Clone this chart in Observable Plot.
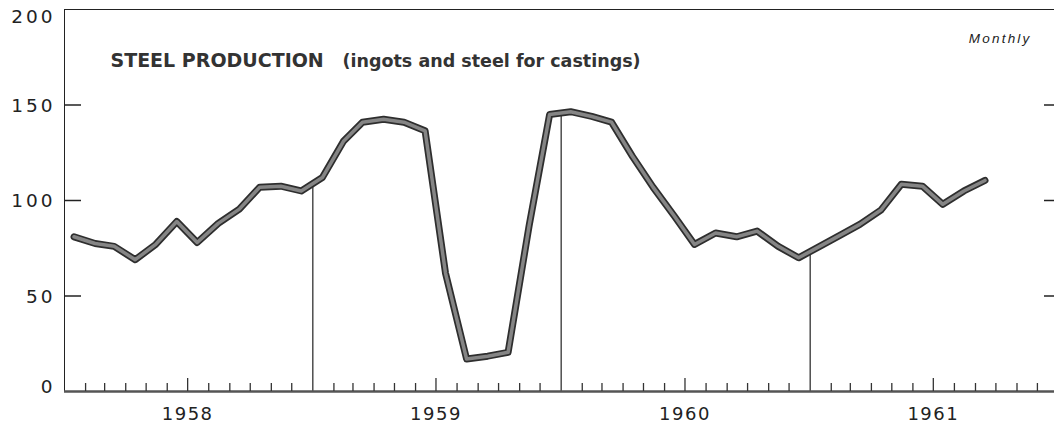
<!DOCTYPE html>
<html><head><meta charset="utf-8">
<script src="https://cdn.jsdelivr.net/npm/d3@7"></script>
<script src="https://cdn.jsdelivr.net/npm/@observablehq/plot@0.6"></script>
<style>html,body{margin:0;padding:0;background:#fff;overflow:hidden}</style>
</head><body><div id="chart"></div>
<script>
// ---- data (index, monthly) ----
const years = [1958, 1959, 1960, 1961];
const yearLabels = ["1958", "1959", "1960", "1961"];
const prod1958 = [81, 77.5, 76, 69, 77, 89, 78, 88, 95.5, 107, 107.5, 105];
const prod1959 = [112, 131, 141, 142.5, 141, 136.5, 62, 17, 18.5, 20.5, 87, 145];
const prod1960 = [146.5, 144, 141, 123, 107, 92, 77, 83, 81, 84, 76, 70];
const prod1961 = [76, 82, 87.5, 95, 108.5, 107.5, 98, 105, 110.5];
const yTickValues = [50, 100, 150];
const yLabelTop = [200];
const yLabelMid = [50, 100, 150];
const yLabelBottom = [0];
const titleMain = "STEEL PRODUCTION";
const titleSub = "(ingots and steel for castings)";
const frequencyNote = "Monthly";

// ---- build tables ----
const series = [prod1958, prod1959, prod1960, prod1961];
const data = series.flatMap((vals, i) =>
  vals.map((v, m) => ({date: new Date(Date.UTC(years[i], m, 15)), value: v})));
const boundaries = years.slice(1).map((y, i) => ({
  date: new Date(Date.UTC(y, 0, 1)),
  value: (series[i][11] + series[i + 1][0]) / 2
}));
const start = new Date(Date.UTC(years[0], 0, 1));
const end = new Date(Date.UTC(years[years.length - 1] + 1, 0, 1));
const months = d3.utcMonth.range(start, end);
const monthTicks = months.filter(d => d.getUTCMonth() !== 0 && d.getUTCMonth() !== 6);
const julyTicks = months.filter(d => d.getUTCMonth() === 6);
const yearLabel = d => yearLabels[years.indexOf(d.getUTCFullYear())];

const labelStyle = {frameAnchor: "left", textAnchor: "end", dx: -9, fontSize: 18.5, fill: "#222"};

const chart = Plot.plot({
  width: 1054,
  height: 424,
  marginTop: 9,
  marginBottom: 33,
  marginLeft: 64,
  marginRight: -4,
  x: {type: "utc", domain: [start, end]},
  y: {domain: [0, 200]},
  style: {fontFamily: "DejaVu Sans", color: "#222", background: "#fff", overflow: "hidden"},
  marks: [
    Plot.frame({stroke: "#222", strokeWidth: 1}),
    Plot.ruleX(boundaries, {x: "date", y1: 0, y2: "value", stroke: "#222", strokeWidth: 1.2}),
    Plot.ruleY([0], {stroke: "#555", strokeWidth: 2.5}),
    Plot.axisX(monthTicks, {anchor: "bottom", tickSize: -8, tickFormat: () => "", label: null, stroke: "#333", strokeWidth: 1.3}),
    Plot.axisX(julyTicks, {anchor: "bottom", tickSize: -13, tickFormat: () => "", label: null, stroke: "#333", strokeWidth: 1.3}),
    Plot.axisX(julyTicks, {anchor: "bottom", tickSize: 0, tickPadding: 16, tickFormat: yearLabel, label: null, fontSize: 18, fill: "#222"}),
    Plot.axisY(yTickValues, {anchor: "left", tickSize: -17, tickFormat: () => "", label: null, stroke: "#222", strokeWidth: 1.5}),
    Plot.axisY(yTickValues, {anchor: "right", tickSize: -15, tickFormat: () => "", label: null, stroke: "#222", strokeWidth: 1.5}),
    Plot.text(yLabelTop, {y: d => d, text: d => String(d), ...labelStyle, dy: 8}),
    Plot.text(yLabelMid, {y: d => d, text: d => String(d), ...labelStyle, dy: 1}),
    Plot.text(yLabelBottom, {y: d => d, text: d => String(d), ...labelStyle, dy: -4}),
    Plot.text([titleMain], {text: d => d, frameAnchor: "top-left", textAnchor: "start", lineAnchor: "bottom", dx: 46, dy: 57, fontSize: 19, fontWeight: "bold", fontFamily: "DejaVu Sans", fill: "#333"}),
    Plot.text([titleSub], {text: d => d, frameAnchor: "top-left", textAnchor: "start", lineAnchor: "bottom", dx: 278, dy: 57, fontSize: 17.5, fontWeight: "bold", fontFamily: "DejaVu Sans", fill: "#333"}),
    Plot.text([frequencyNote], {text: d => d, frameAnchor: "top-right", textAnchor: "end", lineAnchor: "bottom", dx: -27, dy: 33, fontSize: 13.5, fontStyle: "italic", fontFamily: "Liberation Sans", fill: "#222"}),
    Plot.line(data, {x: "date", y: "value", stroke: "#2e2e2e", strokeWidth: 7, strokeLinejoin: "round"}),
    Plot.line(data, {x: "date", y: "value", stroke: "#858585", strokeWidth: 3.5, strokeLinejoin: "round"})
  ]
});
// letter spacing for the wide, spaced-out lettering of the original
const yLabelSet = new Set([...yLabelTop, ...yLabelMid, ...yLabelBottom].map(String));
const yearSet = new Set(yearLabels);
d3.select(chart).selectAll("text").each(function () {
  const t = this.textContent;
  if (yLabelSet.has(t)) this.setAttribute("letter-spacing", "3");
  else if (yearSet.has(t)) this.setAttribute("letter-spacing", "1.5");
  else if (t === frequencyNote) this.setAttribute("letter-spacing", "2.2");
});
document.getElementById("chart").append(chart);
</script>
</body></html>
